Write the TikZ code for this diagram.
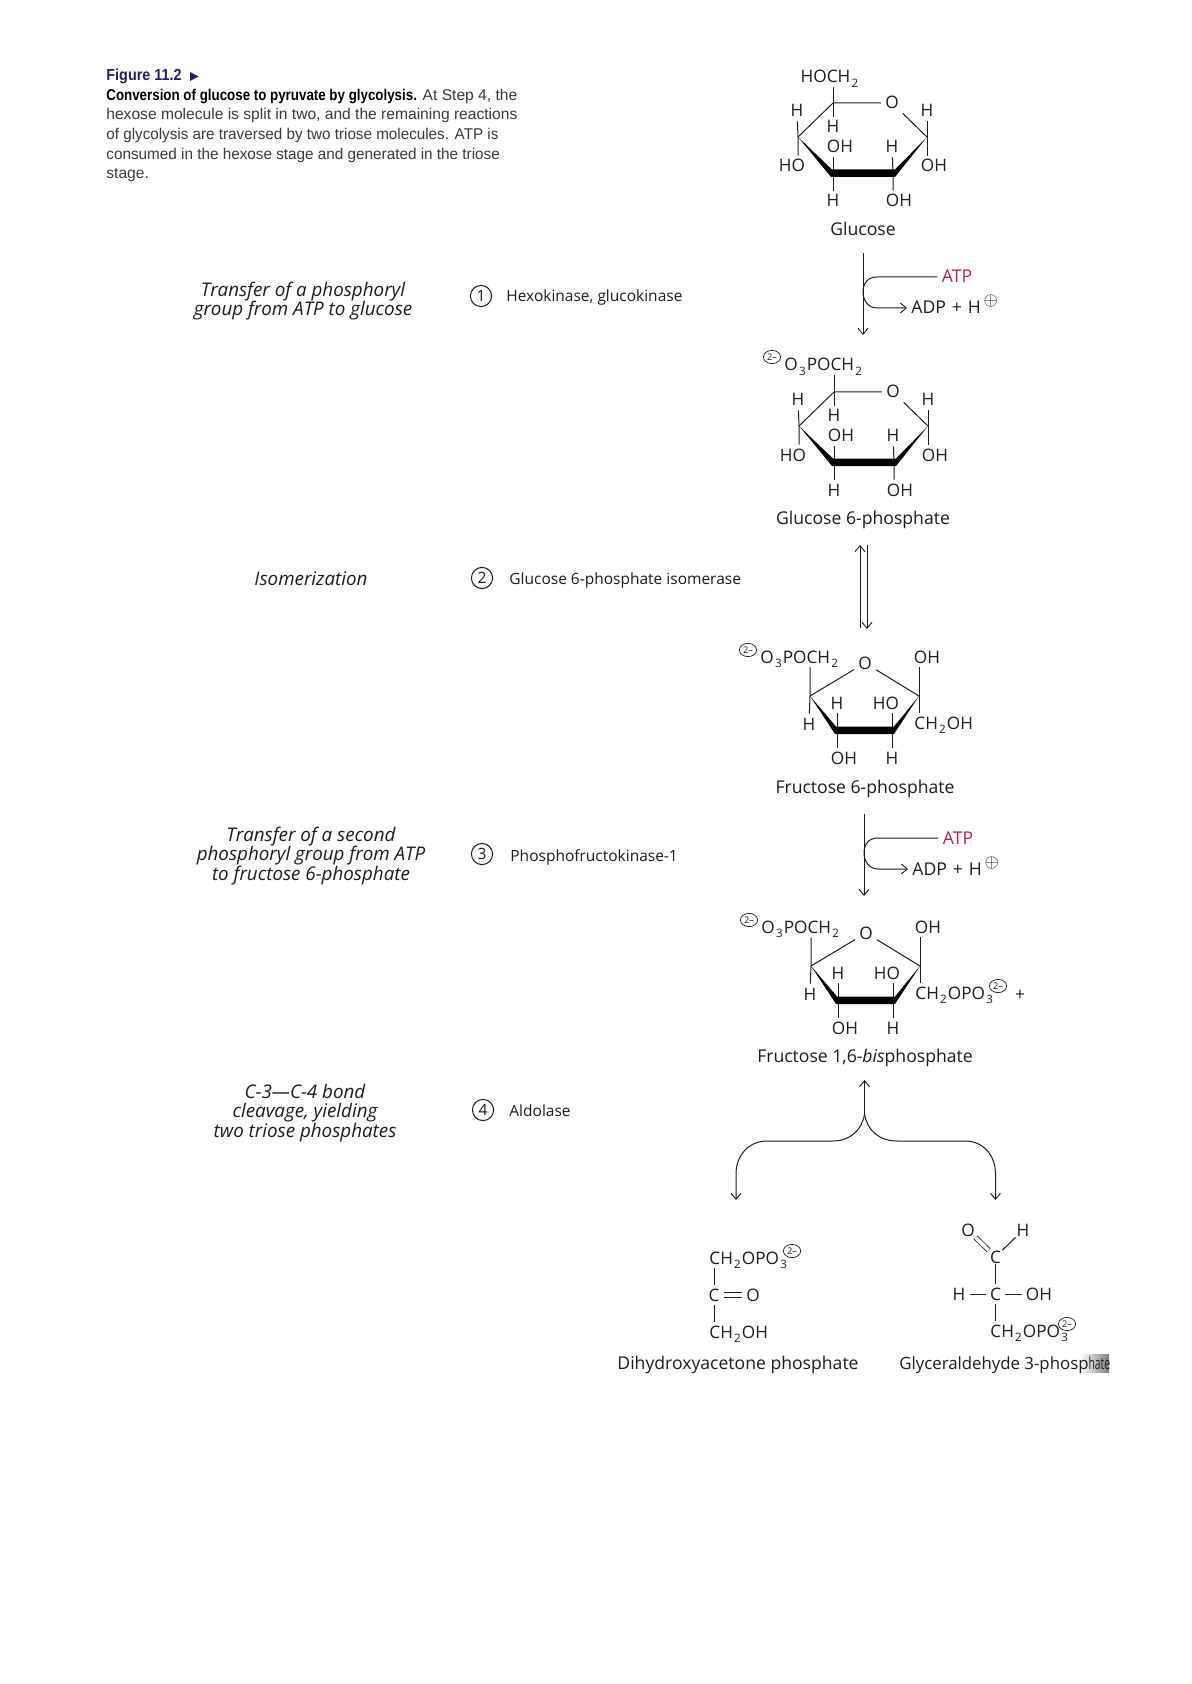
\documentclass[tikz,border=0pt]{standalone}
\usepackage{fontspec}
\usetikzlibrary{arrows.meta,shapes.geometric}
\setmainfont{Open Sans}
\newfontfamily\capfont{Liberation Sans}
\newfontfamily\capfig[FakeStretch=0.9]{Liberation Sans}
\newfontfamily\capbold[FakeStretch=0.855]{Liberation Sans}
\definecolor{ink}{HTML}{1C1C1C}
\definecolor{capink}{HTML}{3A3A3A}
\definecolor{navyfig}{HTML}{1F1F78}
\definecolor{atpred}{HTML}{C2185B}
\newcommand{\subn}[1]{\kern0.6pt\raisebox{-0.45ex}{\fontsize{5.8}{6}\selectfont #1}\kern0.6pt}
\tikzset{
  atom/.style={inner xsep=2pt,inner ysep=2pt,text=ink,font=\fontsize{8.6}{10}\selectfont,text height=6pt,text depth=0pt},
  lbl/.style={inner sep=0pt,text=ink,font=\fontsize{8.8}{10}\selectfont,text height=6pt,text depth=0pt},
  enz/.style={inner sep=0pt,anchor=west,text=ink,font=\fontsize{7.75}{10}\selectfont,text height=6pt,text depth=0pt},
  stage/.style={inner sep=0pt,align=center,text=ink,font=\fontsize{9.4}{9.9}\selectfont\itshape},
  numc/.style={circle,draw=ink,line width=0.5pt,minimum size=10.6pt,inner sep=0pt,text=ink,font=\fontsize{7.8}{9}\selectfont},
  chg/.style={ellipse,draw=ink,line width=0.35pt,minimum width=8.6pt,minimum height=6.6pt,inner sep=0pt,text=ink,font=\fontsize{4.6}{5}\selectfont},
  bond/.style={draw=ink,line width=0.5pt},
  dbond/.style={draw=ink,double,double distance=1.8pt,line width=0.4pt},
  arrowline/.style={draw=ink,line width=0.5pt,-{Straight Barb[length=3pt,width=5pt,line width=0.45pt]}},
  wedge/.style={fill=black,draw=none},
}
\newcommand{\pyranose}[3]{%
\begin{scope}[shift={(#2)},name prefix=#1-]
  \coordinate (c5) at (833,103);
  \coordinate (c4) at (798,137);
  \coordinate (c3) at (833,173);
  \coordinate (c2) at (893,173);
  \coordinate (c1) at (927,137);
  \node[atom] (o) at (892,103) {O};
  \node[atom] (h4) at (797,111) {H};
  \node[atom] (h5) at (833,127) {H};
  \node[atom] (oh3) at (840,147) {OH};
  \node[atom] (h2) at (892,147) {H};
  \node[atom] (h1) at (927,111) {H};
  \node[atom] (ho4) at (792,166) {HO};
  \node[atom] (oh1) at (934,166) {OH};
  \node[atom] (h3) at (833,201) {H};
  \node[atom] (oh2) at (899,201) {OH};
  #3
  \draw[bond] (c5) -- (o) (o) -- (c1) (c5) -- (c4);
  \draw[bond] (c5) -- (c5 |- top.south) (c5) -- (h5);
  \draw[bond] (h4) -- (c4) -- (c4 |- ho4.north);
  \draw[bond] (h1) -- (c1) -- (c1 |- oh1.north);
  \draw[bond] (c3 |- oh3.south) -- (c3) -- (h3);
  \draw[bond] (h2) -- (c2) -- (c2 |- oh2.north);
  \fill[wedge] (c4) -- (832,169.5) -- (895,169.5) -- (c1) -- (895,177) -- (831,177) -- cycle;
\end{scope}}
\newcommand{\furanose}[3]{%
\begin{scope}[shift={(#2)},name prefix=#1-]
  \coordinate (cl) at (810,696);
  \coordinate (cr) at (919,696);
  \coordinate (bl) at (837,730);
  \coordinate (br) at (892,730);
  \node[atom] (o) at (865,663) {O};
  \node[atom,anchor=west,inner xsep=0pt] (top) at (760,657) {O\subn{3}POCH\subn{2}};
  \node[chg] (q) at (748,650) {2–};
  \node[atom] (oh) at (927,657) {OH};
  \node[atom] (hl) at (809,724) {H};
  \node[atom] (hb) at (837,703) {H};
  \node[atom] (ho) at (886,703) {HO};
  \node[atom] (ohb) at (844,758) {OH};
  \node[atom] (hr) at (892,758) {H};
  #3
  \draw[bond] (o) -- (cl) (o) -- (cr);
  \draw[bond] (cl |- top.south) -- (cl) -- (hl);
  \draw[bond] (cr |- oh.south) -- (cr) -- (cr |- tail.north);
  \draw[bond] (hb) -- (bl) -- (bl |- ohb.north);
  \draw[bond] (br |- ho.south) -- (br) -- (hr);
  \fill[wedge] (cl) -- (836,726.5) -- (894,726.5) -- (cr) -- (894,734) -- (835,734) -- cycle;
\end{scope}}
\newcommand{\atpstep}[2]{%
\begin{scope}[shift={(#2)},name prefix=#1-]
  \coordinate (s) at (863,253);
  \coordinate (e) at (863,335);
  \node[lbl,text=atpred,inner xsep=2pt] (atp) at (957,277) {ATP};
  \node[lbl,anchor=west,inner xsep=2pt] (adp) at (907,308) {ADP\,\,+\,\,H\kern1.5pt\raisebox{0.85ex}{\makebox[0.8em]{\fontsize{9.5}{10}\selectfont$\oplus$}}};
  \draw[arrowline] (s) -- (e);
  \draw[arrowline] (atp.west) -- (877,277) .. controls (868,277) and (863,283) .. (863,292)
     .. controls (863,300) and (868,308) .. (877,308) -- (adp.west);
\end{scope}}
\begin{document}
\begin{tikzpicture}[x=0.5pt,y=-0.5pt]
\useasboundingbox (0,0) rectangle (1191,1684);
% caption
\node[inner sep=0pt,anchor=west,text=navyfig,font=\capfig\fontsize{8}{10}\selectfont\bfseries] (figt) at (106,76) {Figure 11.2};
\fill[navyfig] (190,72) -- (198.5,76.5) -- (190,81) -- cycle;
\node[inner sep=0pt,anchor=north west,align=left,text=capink,font=\capfont\fontsize{7.8}{9.85}\selectfont] (capt) at (106,88.5)
 {{\capbold\bfseries\color{black}Conversion of glucose to pyruvate by glycolysis.} At Step 4, the\\
  hexose molecule is split in two, and the remaining reactions\\
  \scalebox{0.976}[1]{of glycolysis are traversed by two triose molecules. ATP is}\\
  \scalebox{0.98}[1]{consumed in the hexose stage and generated in the triose}\\
  stage.};
% stage descriptions
\node[stage] (st1) at (303,301) {Transfer of a phosphoryl\\group from ATP to glucose};
\node[stage] (st2) at (311,579) {Isomerization};
\node[stage] (st3) at (311,856) {Transfer of a second\\phosphoryl group from ATP\\to fructose 6-phosphate};
\node[stage] (st4) at (305,1113) {C-3---C-4 bond\\cleavage, yielding\\two triose phosphates};
% enzymes
\node[numc] (n1) at (481,296) {1};
\node[enz] (e1) at (506,296) {Hexokinase, glucokinase};
\node[numc] (n2) at (482,578) {2};
\node[enz] (e2) at (509,578) {Glucose 6-phosphate isomerase};
\node[numc] (n3) at (482,854) {3};
\node[enz] (e3) at (510,855) {Phosphofructokinase-1};
\node[numc] (n4) at (483,1110) {4};
\node[enz] (e4) at (509,1110) {Aldolase};
% glucose
\pyranose{glc}{0,0}{\node[atom] (top) at (830,77) {HOCH\subn{2}};}
\node[lbl] (glcname) at (863,230) {Glucose};
\atpstep{s1}{0,0}
% G6P
\pyranose{g6p}{1,289}{\node[atom,anchor=west,inner xsep=0pt] (top) at (783,76) {O\subn{3}POCH\subn{2}};
  \node[chg] (q) at (771,68) {2–};}
\node[lbl] (g6pname) at (863,518) {Glucose 6-phosphate};
\coordinate (iu0) at (860,628); \coordinate (iu1) at (860,545);
\coordinate (id0) at (867,545); \coordinate (id1) at (867,629);
\draw[arrowline] (iu0) -- (iu1);
\draw[arrowline] (id0) -- (id1);
% F6P
\furanose{f6p}{0,0}{\node[atom,anchor=west,inner xsep=0pt] (tail) at (914,723) {CH\subn{2}OH};}
\node[lbl] (f6pname) at (865,787) {Fructose 6-phosphate};
\atpstep{s3}{1,561}
% F16BP
\furanose{fbp}{1,270}{\node[atom,anchor=west,inner xsep=0pt] (tail) at (914,723) {CH\subn{2}OPO\subn{3}};
  \node[chg] (q2) at (997,716) {2–};
  \node[atom] (plus) at (1019,724) {+};}
\node[lbl] (fbpname) at (865,1056) {Fructose 1,6-\textit{bis}phosphate};
% aldolase split
\coordinate (jn) at (864.5,1114);
\coordinate (upend) at (864.5,1080);
\coordinate (dl) at (736,1200);
\coordinate (dr) at (995.5,1200);
\draw[arrowline] (jn) -- (upend);
\draw[arrowline] (jn) .. controls (862,1130) and (850,1141) .. (833,1141) -- (767,1141)
   .. controls (749,1141) and (736,1155) .. (736,1174) -- (dl);
\draw[arrowline] (jn) .. controls (867,1130) and (879,1141) .. (897,1141) -- (965,1141)
   .. controls (983,1141) and (995.5,1155) .. (995.5,1174) -- (dr);
% DHAP
\node[atom,anchor=west,inner xsep=0pt] (d1) at (709,1258) {CH\subn{2}OPO\subn{3}};
\node[chg] (d1q) at (792,1251) {2–};
\node[atom] (d2) at (714,1295) {C};
\node[atom] (d2o) at (753,1295) {O};
\node[atom,anchor=west,inner xsep=0pt] (d3) at (709,1332) {CH\subn{2}OH};
\draw[bond] (d2 |- d1.south) -- (d2);
\draw[bond] (d2) -- (d2 |- d3.north);
\draw[dbond] (d2) -- (d2o);
\node[lbl] (dname) at (738,1363) {Dihydroxyacetone phosphate};
% G3P
\shade[left color=white,right color=black!50] (1080,1354) rectangle (1109,1372);
\node[atom,inner sep=0.5pt] (go) at (968,1230) {O};
\node[atom,inner sep=0.5pt] (gh) at (1023,1230) {H};
\node[atom,inner sep=0.5pt] (gc1) at (995.5,1257) {C};
\node[atom] (gc2) at (995.5,1294) {C};
\node[atom] (ghl) at (959,1294) {H};
\node[atom] (goh) at (1039,1294) {OH};
\node[atom,anchor=west,inner xsep=0pt] (gc3) at (990,1331) {CH\subn{2}OPO\subn{3}};
\node[chg] (gq) at (1067,1324) {2–};
\draw[dbond] (go) -- (gc1);
\draw[bond] (gh) -- (gc1);
\draw[bond] (gc1) -- (gc2);
\draw[bond] (ghl) -- (gc2);
\draw[bond] (gc2) -- (goh);
\draw[bond] (gc2) -- (gc2 |- gc3.north);
\node[lbl,anchor=west,font=\fontsize{8.4}{10}\selectfont] (gname) at (899,1363) {Glyceraldehyde 3-phosp\scalebox{0.62}[1]{hate}};
\end{tikzpicture}
\end{document}
